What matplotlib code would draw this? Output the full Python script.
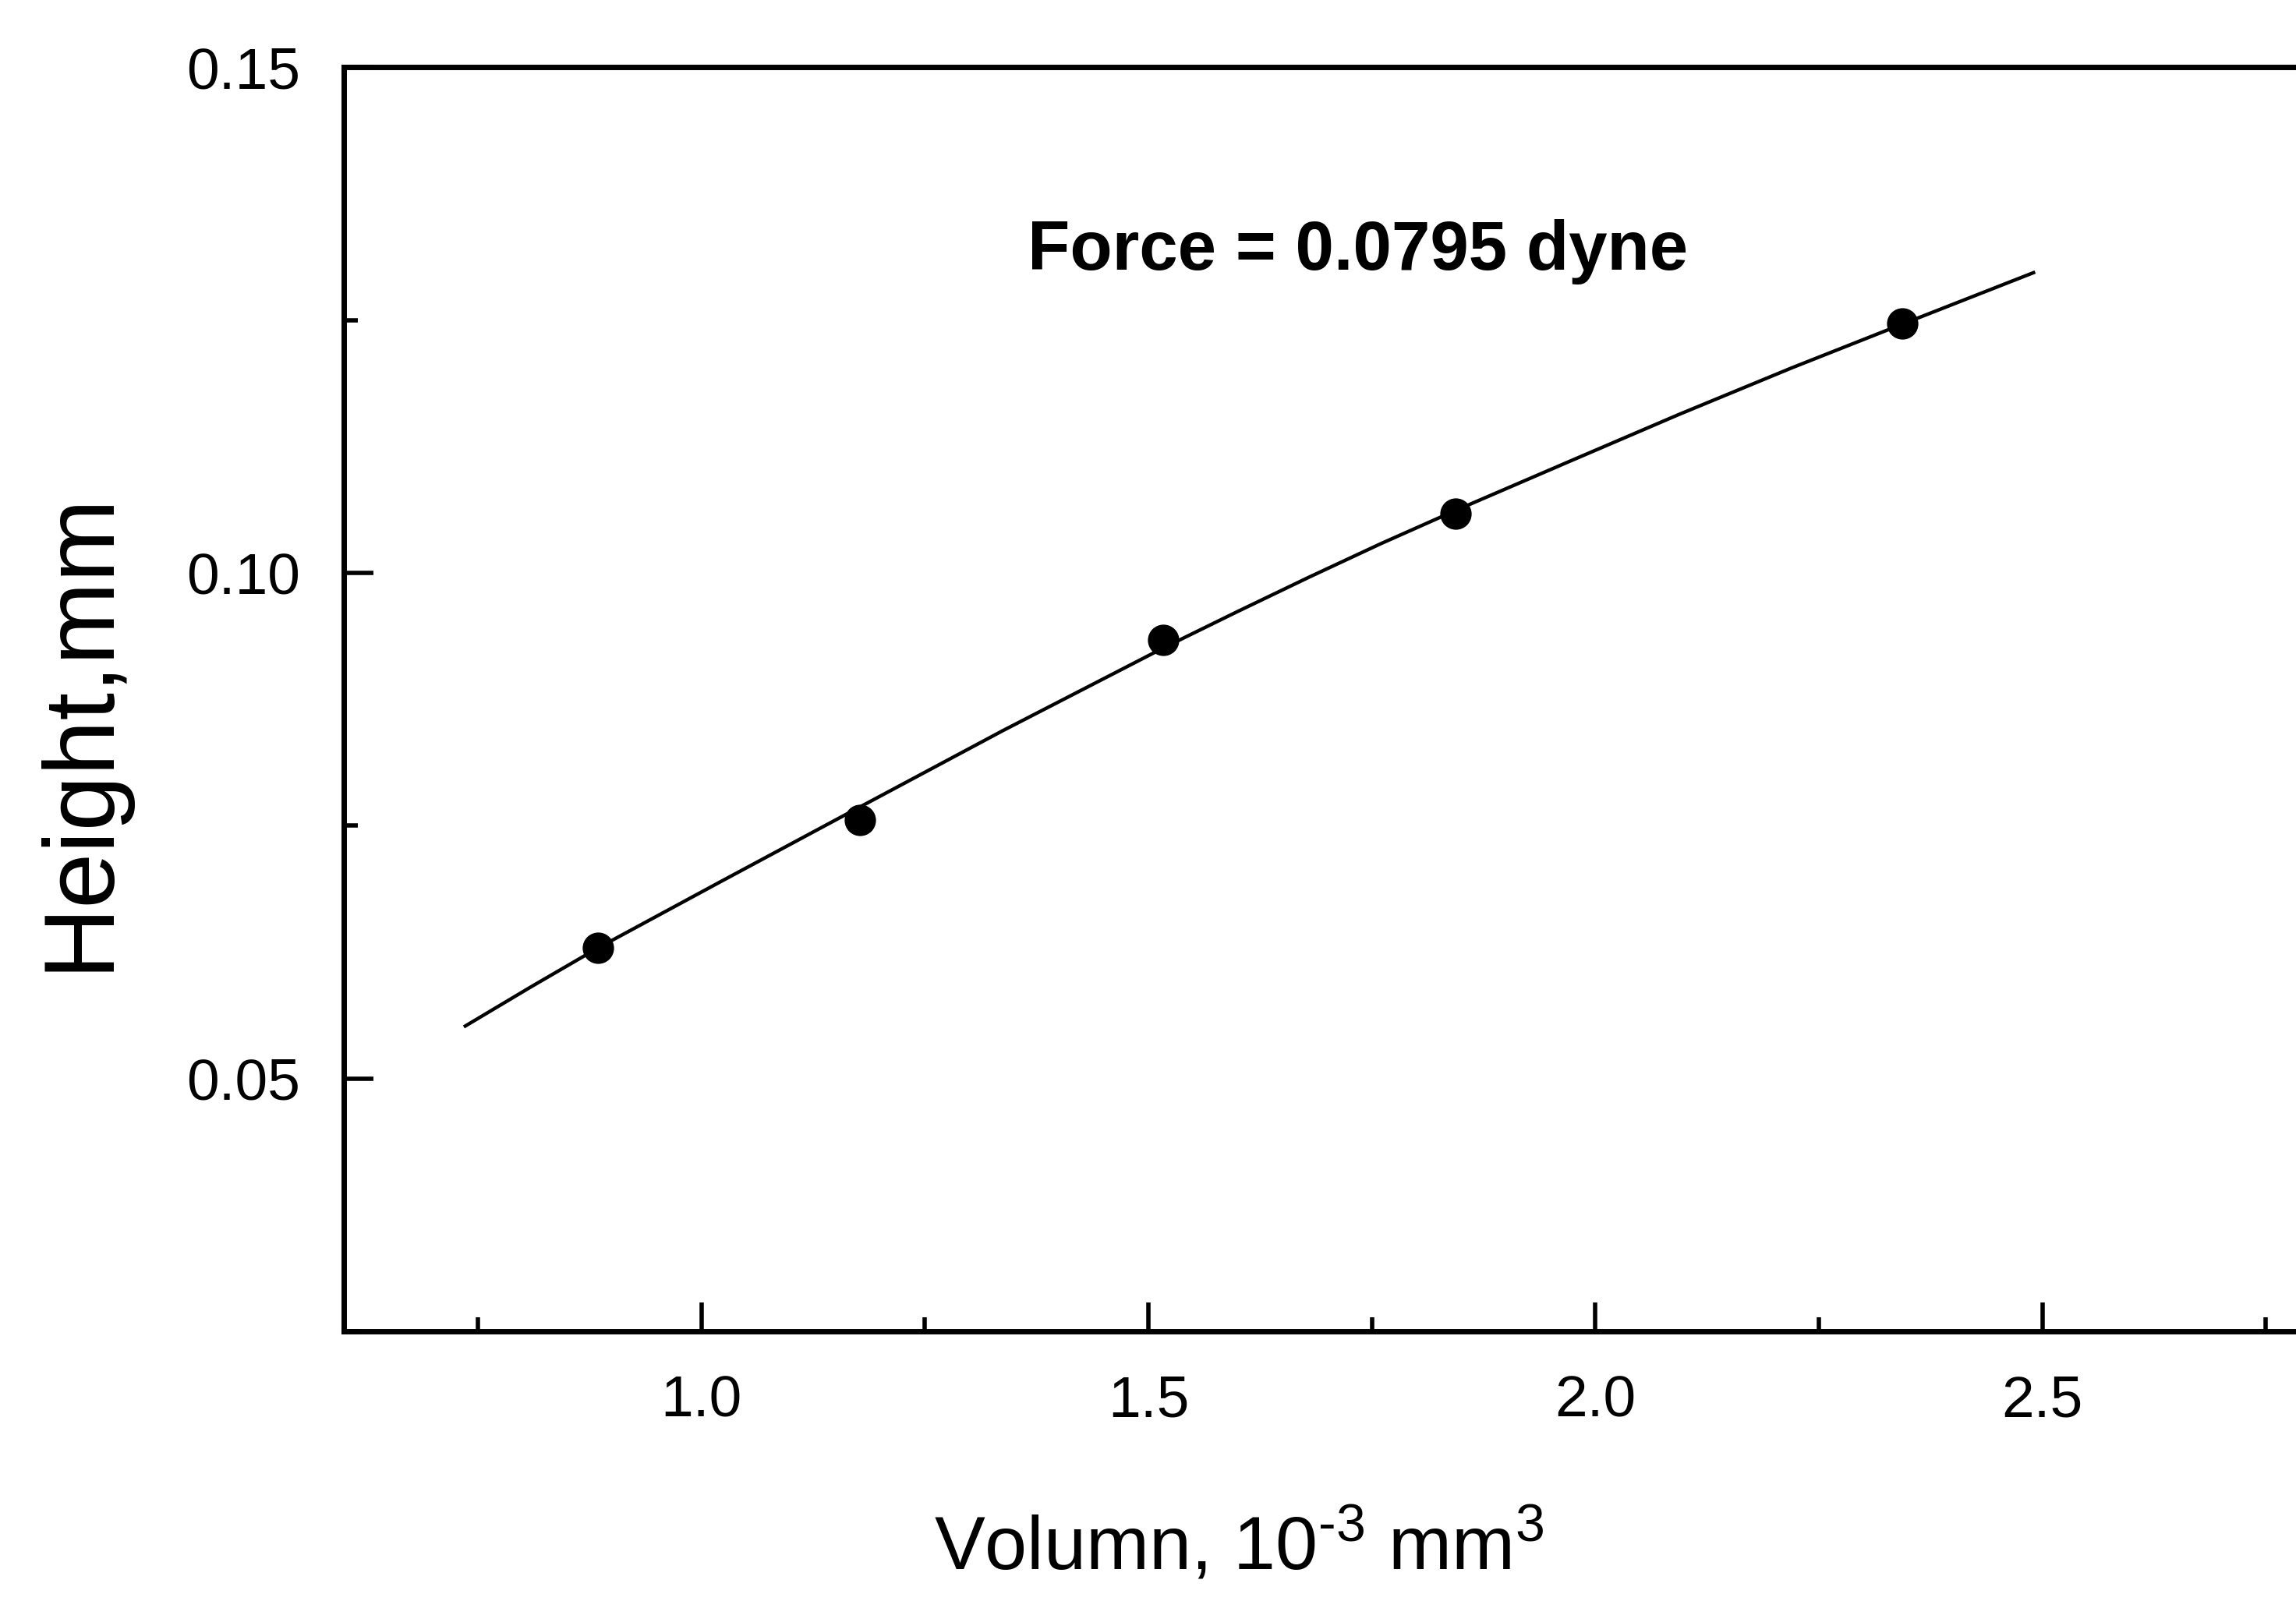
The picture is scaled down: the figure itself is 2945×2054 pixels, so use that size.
import matplotlib
matplotlib.use('Agg')
import matplotlib.pyplot as plt
from matplotlib.ticker import MultipleLocator, FormatStrFormatter

# measured drops
volume = [0.884, 1.177, 1.517, 1.844, 2.343]
height = [0.0629, 0.0756, 0.0934, 0.1059, 0.1247]

# fitted curve
fit_volume = [0.736, 0.810, 0.884, 1.020, 1.157, 1.337, 1.517, 1.600, 1.680, 1.760, 1.844,
              1.970, 2.094, 2.220, 2.343, 2.490]
fit_height = [0.0552, 0.0591, 0.0629, 0.0694, 0.0759, 0.0844, 0.0926, 0.0962, 0.0996, 0.1029, 0.1062,
              0.1110, 0.1157, 0.1203, 0.1246, 0.1297]

note = 'Force = 0.0795 dyne'

plt.rcParams['font.family'] = ['Liberation Sans', 'DejaVu Sans']
plt.rcParams['mathtext.fontset'] = 'custom'
plt.rcParams['mathtext.rm'] = 'Liberation Sans'
plt.rcParams['mathtext.it'] = 'Liberation Sans'

fig = plt.figure(figsize=(29.45, 20.54), dpi=100)
ax = fig.add_axes([0.1497, 0.1684, 0.9151, 0.7895])

ax.plot(fit_volume, fit_height, color='black', linewidth=3.2, zorder=2)
ax.plot(volume, height, 'o', color='black', markersize=28, zorder=3)

ax.text(1.734, 0.1318, note, fontsize=64, fontweight='bold', ha='center', va='center')

ax.set_xlim(0.6, 2.95)
ax.set_ylim(0.025, 0.15)
ax.xaxis.set_major_locator(MultipleLocator(0.5))
ax.xaxis.set_minor_locator(MultipleLocator(0.25))
ax.yaxis.set_major_locator(MultipleLocator(0.05))
ax.yaxis.set_minor_locator(MultipleLocator(0.025))
ax.xaxis.set_major_formatter(FormatStrFormatter('%.1f'))
ax.yaxis.set_major_formatter(FormatStrFormatter('%.2f'))

for s in ax.spines.values():
    s.set_linewidth(5)
ax.tick_params(which='major', direction='in', length=27, width=4, labelsize=54, pad=40)
ax.tick_params(which='minor', direction='in', length=13, width=4)
ax.tick_params(axis='x', which='both', top=False)
ax.tick_params(axis='y', which='both', right=False)

ax.set_xlabel('Volumn, 10$^{\\mathrm{\u20103}}$ mm$^{\\mathrm{3}}$', fontsize=70)
ax.xaxis.set_label_coords(0.426, -0.139)
ax.set_ylabel('Height,mm', fontsize=92)
ax.yaxis.set_label_coords(-0.103, 0.475)

fig.savefig('out.png', dpi=100)
